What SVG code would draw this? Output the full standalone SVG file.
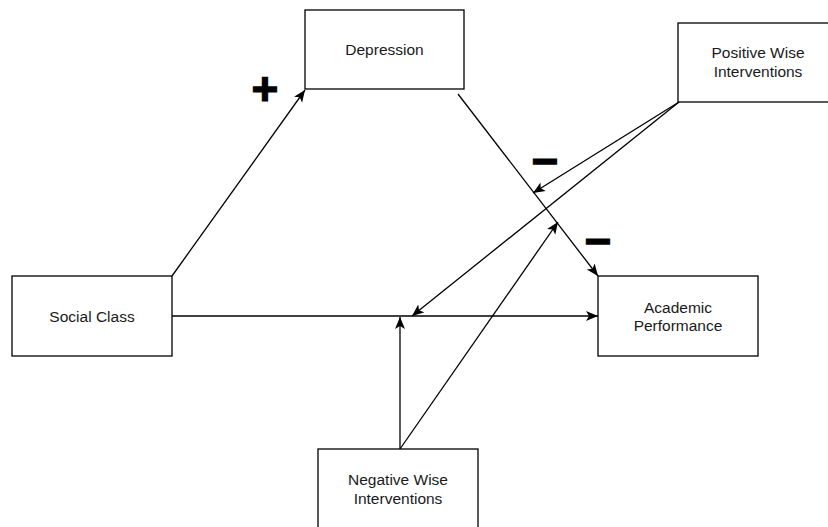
<svg xmlns="http://www.w3.org/2000/svg" width="828" height="527" viewBox="0 0 828 527">
<defs>
<style>
.box{fill:#fff;stroke:#000;stroke-width:1.3}
.lbl{font-family:"Liberation Sans",Arial,Helvetica,sans-serif;font-size:15.5px;fill:#1a1a1a;text-anchor:middle}
.edge{fill:none;stroke:#000;stroke-width:1.3}
.sign{font-family:"Liberation Sans",Arial,sans-serif;font-weight:bold;fill:#000;stroke:#000;stroke-width:1.2;text-anchor:middle}
</style>
<marker id="arr" markerUnits="userSpaceOnUse" markerWidth="14" markerHeight="12" refX="12" refY="5" orient="auto">
<path d="M0,0 L12,5 L0,10 L3,5 Z" fill="#000"/>
</marker>
</defs>
<rect width="828" height="527" fill="#fff"/>
<g id="connectors">
<line class="edge" x1="172" y1="276" x2="305" y2="90" marker-end="url(#arr)"/>
<line class="edge" x1="458" y1="94" x2="598" y2="276" marker-end="url(#arr)"/>
<line class="edge" x1="172" y1="316" x2="598" y2="316" marker-end="url(#arr)"/>
<line class="edge" x1="679" y1="102" x2="533" y2="193" marker-end="url(#arr)"/>
<line class="edge" x1="679" y1="102" x2="412" y2="316" marker-end="url(#arr)"/>
<line class="edge" x1="400" y1="449" x2="400" y2="317" marker-end="url(#arr)"/>
<line class="edge" x1="400" y1="449" x2="558" y2="222" marker-end="url(#arr)"/>
</g>
<g id="depression">
<rect class="box" x="305" y="10" width="159" height="79"/>
<text class="lbl" x="384.5" y="55">Depression</text>
</g>
<g id="positive-wise">
<rect class="box" x="678" y="23" width="160" height="79"/>
<text class="lbl" x="758" y="58">Positive Wise</text>
<text class="lbl" x="758" y="77">Interventions</text>
</g>
<g id="social-class">
<rect class="box" x="12" y="276" width="160" height="80"/>
<text class="lbl" x="92" y="322">Social Class</text>
</g>
<g id="academic-performance">
<rect class="box" x="598" y="276" width="160" height="80"/>
<text class="lbl" x="678" y="313">Academic</text>
<text class="lbl" x="678" y="331">Performance</text>
</g>
<g id="negative-wise">
<rect class="box" x="318" y="449" width="160" height="80"/>
<text class="lbl" x="398" y="485">Negative Wise</text>
<text class="lbl" x="398" y="504">Interventions</text>
</g>
<g id="signs">
<text class="sign" x="265" y="105" font-size="46">+</text>
<text class="sign" x="545" y="177" font-size="46">−</text>
<text class="sign" x="598" y="257" font-size="46">−</text>
</g>
</svg>
